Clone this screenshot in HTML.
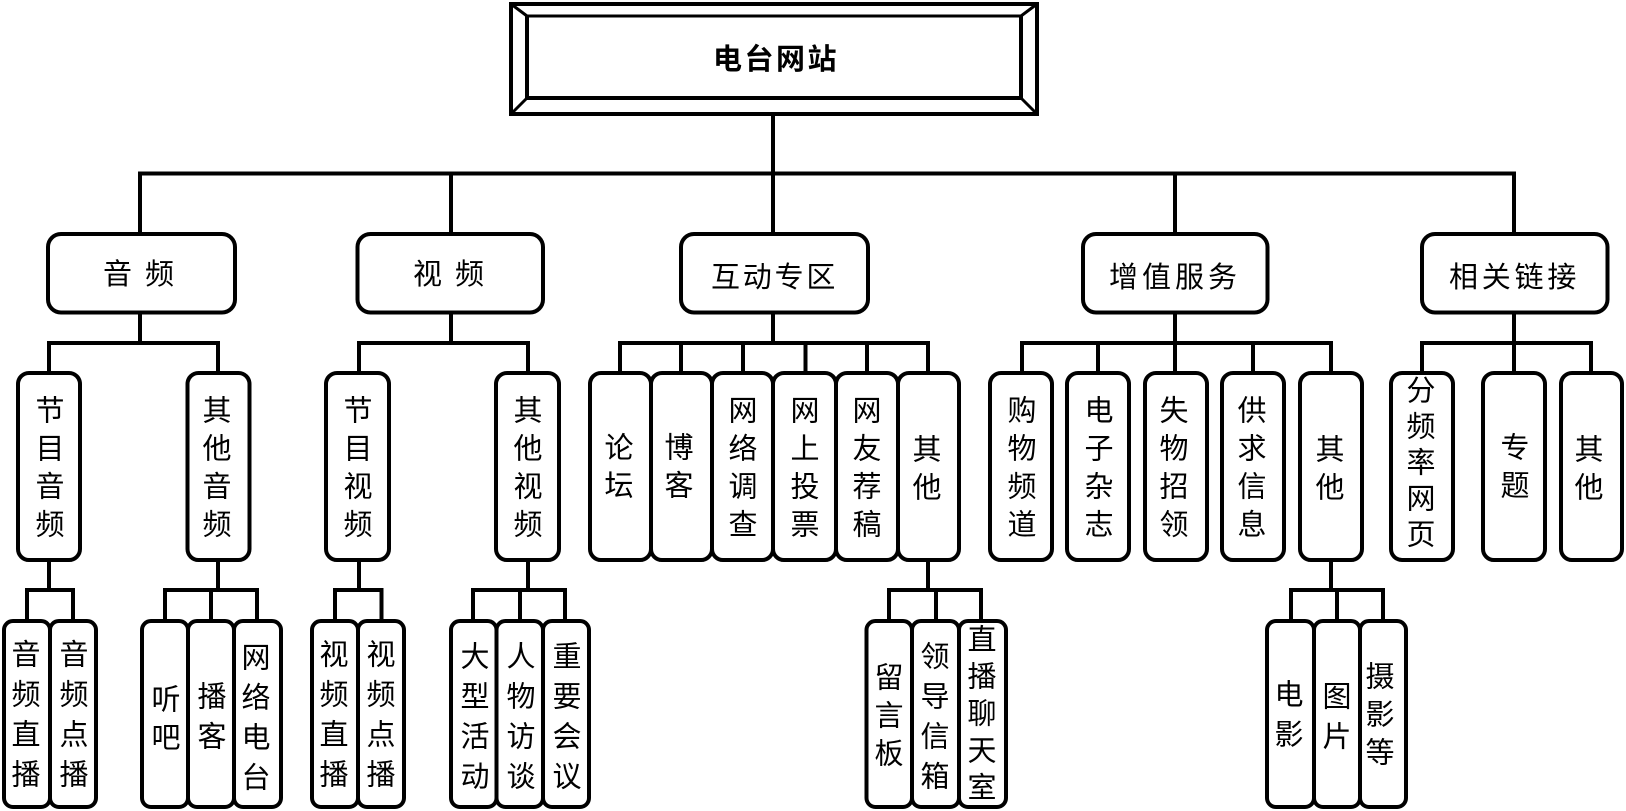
<!DOCTYPE html>
<html lang="zh">
<head>
<meta charset="utf-8">
<title>电台网站</title>
<style>
html,body{margin:0;padding:0;background:#fff;width:1626px;height:811px;overflow:hidden}
svg{display:block}
text{font-family:"Liberation Sans","Noto Sans CJK SC",sans-serif;font-size:29px;fill:#000}
.v{writing-mode:vertical-rl;text-orientation:upright}
.p38{letter-spacing:9px}
.p40{letter-spacing:11px}
.p37{letter-spacing:8px}
.l{fill:none;stroke:#000;stroke-width:4}
.b{fill:#fff;stroke:#000;stroke-width:4}
</style>
</head>
<body>
<svg width="1626" height="811" viewBox="0 0 1626 811" xmlns="http://www.w3.org/2000/svg">
<!-- connectors -->
<g class="l">
<path d="M773 114V234M140 234V173.500H1514V234M451 173.500V234M1175 173.500V234"/>
<path d="M140 313V343M49 373V343H218V373"/>
<path d="M451 313V343M359 373V343H528V373"/>
<path d="M773 313V343M620 373V343H928V373M681 343V373M743 343V373M805.500 343V373M867 343V373"/>
<path d="M1175 313V343M1022 373V343H1331V373M1098 343V373M1175 343V373M1253 343V373"/>
<path d="M1514 313V343M1422 373V343H1591V373M1514 343V373"/>
<path d="M49 560V590M27 621V590H73V621"/>
<path d="M218 560V590M165 621V590H257V621M211 590V621"/>
<path d="M359 560V590M335 621V590H381.500V621"/>
<path d="M528 560V590M473 621V590H565V621M520 590V621"/>
<path d="M928 560V590M889 621V590H981V621M936 590V621"/>
<path d="M1331 560V590M1291 621V590H1383V621M1337 590V621"/>
</g>
<!-- root -->
<rect x="511" y="4" width="526" height="110" fill="#fff" stroke="#000" stroke-width="4"/>
<path d="M511 4L527 16M1037 4L1021 16M511 114L527 98M1037 114L1021 98" stroke="#000" stroke-width="3" fill="none"/>
<path d="M527 16H1021" stroke="#000" stroke-width="3" fill="none"/>
<path d="M527 16V98H1021V16" stroke="#000" stroke-width="4" fill="none"/>
<text x="713" y="69" style="font-weight:700;letter-spacing:2.500px">电台网站</text>
<!-- level 2 -->
<g class="b">
<rect x="48" y="234" width="187" height="78.500" rx="13"/>
<rect x="357.500" y="234" width="185.500" height="78.500" rx="13"/>
<rect x="681" y="234" width="187" height="78.500" rx="13"/>
<rect x="1083" y="234" width="184.500" height="78.500" rx="13"/>
<rect x="1422" y="234" width="185.500" height="78.500" rx="13"/>
</g>
<text x="103" y="284" style="letter-spacing:13px">音频</text>
<text x="413" y="284" style="letter-spacing:13px">视频</text>
<text x="711" y="287" style="letter-spacing:2.800px">互动专区</text>
<text x="1109" y="287" style="letter-spacing:4px">增值服务</text>
<text x="1449" y="287" style="letter-spacing:3.800px">相关链接</text>
<!-- level 3 -->
<g class="b">
<rect x="18" y="373" width="62" height="187" rx="11"/>
<rect x="187.500" y="373" width="62" height="187" rx="11"/>
<rect x="326" y="373" width="63" height="187" rx="11"/>
<rect x="496" y="373" width="63" height="187" rx="11"/>
<rect x="590" y="373" width="61" height="187" rx="11"/>
<rect x="651" y="373" width="61" height="187" rx="11"/>
<rect x="712" y="373" width="61" height="187" rx="11"/>
<rect x="773" y="373" width="63" height="187" rx="11"/>
<rect x="836" y="373" width="62" height="187" rx="11"/>
<rect x="898" y="373" width="61" height="187" rx="11"/>
<rect x="990" y="373" width="62" height="187" rx="11"/>
<rect x="1067" y="373" width="62" height="187" rx="11"/>
<rect x="1145" y="373" width="62" height="187" rx="11"/>
<rect x="1222" y="373" width="62" height="187" rx="11"/>
<rect x="1300" y="373" width="62" height="187" rx="11"/>
<rect x="1391" y="373" width="62" height="187" rx="11"/>
<rect x="1483" y="373" width="62" height="187" rx="11"/>
<rect x="1561" y="373" width="61" height="187" rx="11"/>
</g>
<text class="v p38" x="47" y="395">节目音频</text>
<text class="v p38" x="214" y="395">其他音频</text>
<text class="v p38" x="355" y="395">节目视频</text>
<text class="v p38" x="525" y="395">其他视频</text>
<text class="v p38" x="616" y="432">论坛</text>
<text class="v p38" x="676" y="432">博客</text>
<text class="v p38" x="740" y="395">网络调查</text>
<text class="v p38" x="802" y="395">网上投票</text>
<text class="v p38" x="864" y="395">网友荐稿</text>
<text class="v p38" x="924" y="434">其他</text>
<text class="v p38" x="1019" y="395">购物频道</text>
<text class="v p38" x="1096" y="395">电子杂志</text>
<text class="v p38" x="1171" y="395">失物招领</text>
<text class="v p38" x="1249" y="395">供求信息</text>
<text class="v p38" x="1327" y="434">其他</text>
<text class="v" x="1418" y="375" style="letter-spacing:7px">分频率网页</text>
<text class="v p38" x="1512" y="432">专题</text>
<text class="v p38" x="1586" y="434">其他</text>
<!-- level 4 -->
<g class="b">
<rect x="4" y="621" width="46" height="186" rx="9"/>
<rect x="50" y="621" width="46" height="186" rx="9"/>
<rect x="142" y="621" width="46" height="186" rx="9"/>
<rect x="188" y="621" width="46" height="186" rx="9"/>
<rect x="234" y="621" width="47" height="186" rx="9"/>
<rect x="312" y="621" width="46" height="186" rx="9"/>
<rect x="358" y="621" width="46" height="186" rx="9"/>
<rect x="451" y="621" width="45.500" height="186" rx="9"/>
<rect x="496.500" y="621" width="46.500" height="186" rx="9"/>
<rect x="543" y="621" width="46" height="186" rx="9"/>
<rect x="866.500" y="621" width="45.500" height="186" rx="9"/>
<rect x="912" y="621" width="47" height="186" rx="9"/>
<rect x="959" y="621" width="47" height="186" rx="9"/>
<rect x="1267" y="621" width="47" height="186" rx="9"/>
<rect x="1314" y="621" width="46" height="186" rx="9"/>
<rect x="1360" y="621" width="46" height="186" rx="9"/>
</g>
<text class="v p40" x="23" y="639">音频直播</text>
<text class="v p40" x="71" y="639">音频点播</text>
<text class="v p38" x="163" y="684">听吧</text>
<text class="v p40" x="209" y="681">播客</text>
<text class="v p40" x="253" y="642">网络电台</text>
<text class="v p40" x="331" y="639">视频直播</text>
<text class="v p40" x="378" y="639">视频点播</text>
<text class="v p40" x="472" y="641">大型活动</text>
<text class="v p40" x="518" y="641">人物访谈</text>
<text class="v p40" x="564" y="641">重要会议</text>
<text class="v p38" x="886" y="662">留言板</text>
<text class="v p40" x="932" y="641">领导信箱</text>
<text class="v p37" x="979" y="624">直播聊天室</text>
<text class="v p40" x="1286" y="679">电影</text>
<text class="v p40" x="1334" y="681">图片</text>
<text class="v p38" x="1377" y="661">摄影等</text>
</svg>
</body>
</html>
